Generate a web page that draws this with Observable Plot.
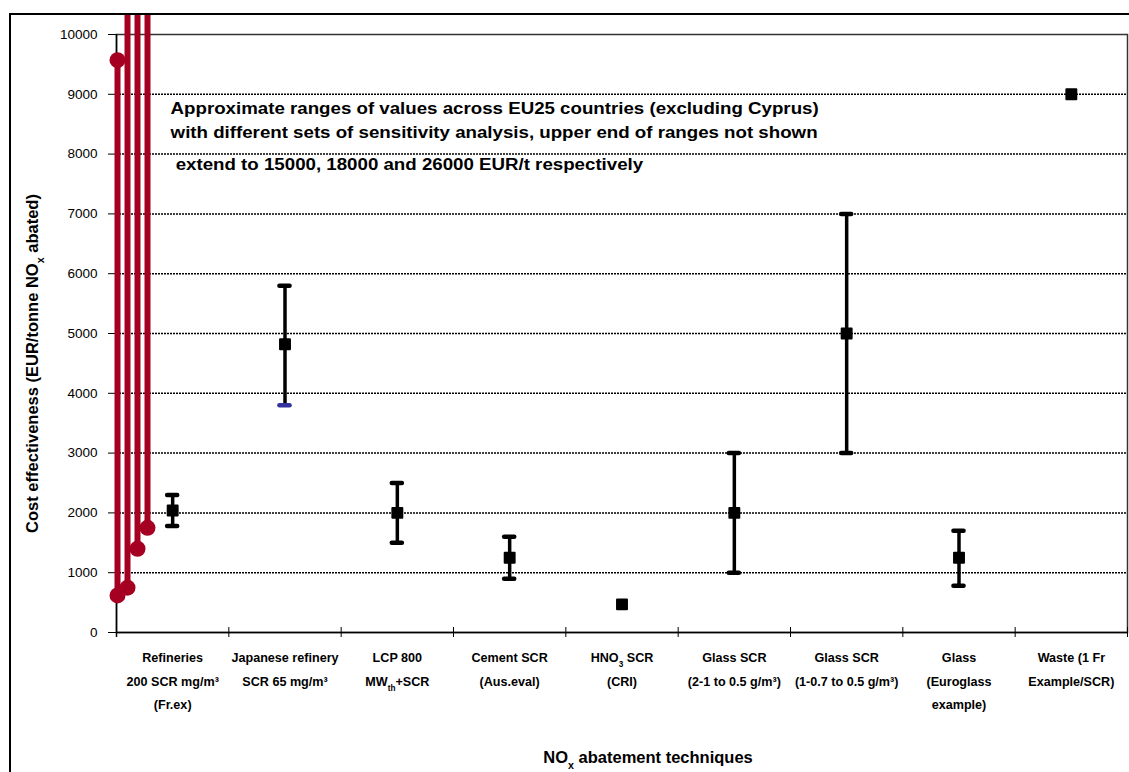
<!DOCTYPE html>
<html>
<head>
<meta charset="utf-8">
<script src="https://cdn.jsdelivr.net/npm/d3@7"></script>
<script src="https://cdn.jsdelivr.net/npm/@observablehq/plot@0.6"></script>
<style>
  html, body { margin: 0; padding: 0; background: white; width: 1129px; height: 772px; overflow: hidden; }
  #frame { position: absolute; left: 9px; top: 13px; width: 1200px; height: 800px; border-left: 2px solid black; border-top: 2px solid black; z-index: 2; pointer-events: none; }
  #chart { position: absolute; left: 0; top: 15px; }
</style>
</head>
<body>
<div id="frame"></div>
<div id="chart"></div>
<script>
// ---- data ----
const categories = [
  "Refineries\n200 SCR mg/m³\n(Fr.ex)",
  "Japanese refinery\nSCR 65 mg/m³",
  "LCP 800\nMW_{th}+SCR",
  "Cement SCR\n(Aus.eval)",
  "HNO_{3} SCR\n(CRI)",
  "Glass SCR\n(2-1 to 0.5 g/m³)",
  "Glass SCR\n(1-0.7 to 0.5 g/m³)",
  "Glass\n(Euroglass\nexample)",
  "Waste (1 Fr\nExample/SCR)"
];
const centerValues = [2040, 4820, 2000, 1250, 470, 2000, 5000, 1250, 9000];
const lowValues    = [1780, 3800, 1500, 900, null, 1000, 3000, 780, null];
const highValues   = [2300, 5800, 2500, 1600, null, 3000, 7000, 1700, null];

// EU25 ranges (red), upper ends of the last three are off the chart
const rangeLows  = [620, 750, 1400, 1750];
const rangeHighs = [9570, 15000, 18000, 26000];

const yTicks = [0, 1000, 2000, 3000, 4000, 5000, 6000, 7000, 8000, 9000, 10000];
const yLabel = "Cost effectiveness (EUR/tonne NO_{x} abated)";
const xLabel = "NO_{x} abatement techniques";
const annotationLines = [
  "Approximate ranges of values across EU25 countries (excluding Cyprus)",
  "with different sets of sensitivity analysis, upper end of ranges not shown",
  " extend to 15000, 18000 and 26000 EUR/t respectively"
];

// ---- derived tables ----
const cats = categories.map((label, i) => ({label, i, x: i + 0.5, c: centerValues[i], lo: lowValues[i], hi: highValues[i]}));
const bars = cats.filter(d => d.lo != null);
const capHalf = 0.045;
const capsBlack = bars.flatMap(d => [
  ...(d.i === 1 ? [] : [{x: d.x, y: d.lo}]),
  {x: d.x, y: d.hi}
]);
const capsBlue = bars.filter(d => d.i === 1).map(d => ({x: d.x, y: d.lo}));
const ranges = rangeLows.map((lo, i) => ({x: 0.009 + i * 0.089, lo, hi: rangeHighs[i]}));
const red = "#a50021";
const annoFont = 17;

const plot = Plot.plot({
  width: 1129,
  height: 757,
  marginLeft: 116,
  marginRight: 2,
  marginTop: 19,
  marginBottom: 140,
  style: {fontFamily: "'Liberation Sans', Arial, sans-serif", background: "transparent", color: "black"},
  x: {domain: [0, 9], axis: null},
  y: {domain: [0, 10000]},
  marks: [
    Plot.gridY(yTicks.slice(1, -1), {stroke: "black", strokeOpacity: 1, strokeDasharray: "2,1", strokeWidth: 1.5}),
    Plot.frame({stroke: "#333", strokeWidth: 1.5}),
    Plot.ruleY([0], {stroke: "black", strokeWidth: 1.5}),
    Plot.ruleX([0], {stroke: "black", strokeWidth: 1.5, insetBottom: -5}),
    Plot.ruleX(d3.range(10), {y1: 0, y2: 0, insetTop: -5, insetBottom: -5, stroke: "black"}),
    Plot.axisY({ticks: yTicks, tickFormat: d => String(d), tickSize: 8, tickPadding: 11, fontSize: 13.5, label: null}),
    // error bars
    Plot.ruleX(bars, {x: "x", y1: "lo", y2: "hi", stroke: "black", strokeWidth: 3.5}),
    Plot.ruleY(capsBlack, {y: "y", x1: d => d.x - capHalf, x2: d => d.x + capHalf, stroke: "black", strokeWidth: 4.5, strokeLinecap: "round"}),
    Plot.ruleY(capsBlue, {y: "y", x1: d => d.x - capHalf, x2: d => d.x + capHalf, stroke: "#3333a0", strokeWidth: 4.5, strokeLinecap: "round"}),
    Plot.dot(cats, {x: "x", y: "c", symbol: "square", r: 5.6, fill: "black", stroke: "black", strokeWidth: 2, strokeLinejoin: "round"}),
    // EU25 ranges
    Plot.ruleX(ranges, {x: "x", y1: "lo", y2: "hi", stroke: red, strokeWidth: 6}),
    Plot.dot(ranges, {x: "x", y: "lo", r: 8, fill: red}),
    Plot.dot(ranges.filter(d => d.hi <= 10000), {x: "x", y: "hi", r: 8, fill: red}),
    // texts
    Plot.text(cats, {x: "x", text: "label", frameAnchor: "bottom", lineAnchor: "top", dy: 13, fontSize: 12.6, fontWeight: "bold", lineHeight: 1.87}),
    Plot.text([yLabel], {frameAnchor: "left", textAnchor: "middle", rotate: -90, dx: -84, dy: 30, fontSize: 16.5, fontWeight: "bold"}),
    Plot.text([xLabel], {frameAnchor: "bottom", textAnchor: "middle", dx: 26, dy: 130, fontSize: 16.5, fontWeight: "bold"}),
    Plot.text([annotationLines.slice(0, 2).join("\n")], {frameAnchor: "top-left", textAnchor: "start", lineAnchor: "top", dx: 54, dy: 63, fontSize: annoFont, fontWeight: "bold", lineHeight: 1.38}),
    Plot.text([annotationLines[2]], {frameAnchor: "top-left", textAnchor: "start", lineAnchor: "top", dx: 54, dy: 123, fontSize: annoFont, fontWeight: "bold"})
  ]
});

// convert _{..} and ^{..} markup into sub/superscript tspans
const SVGNS = "http://www.w3.org/2000/svg";
plot.querySelectorAll("text").forEach(t => {
  const spans = t.querySelectorAll("tspan");
  const targets = spans.length ? [...spans] : [t];
  targets.forEach(el => {
    const s = el.textContent;
    if (!/[_^]\{/.test(s)) return;
    el.textContent = "";
    const re = /([_^])\{([^}]*)\}/g;
    let last = 0, m;
    while ((m = re.exec(s))) {
      if (m.index > last) el.appendChild(document.createTextNode(s.slice(last, m.index)));
      const sp = document.createElementNS(SVGNS, "tspan");
      sp.setAttribute("baseline-shift", m[1] === "_" ? "sub" : "super");
      sp.setAttribute("font-size", "65%");
      sp.textContent = m[2];
      el.appendChild(sp);
      last = re.lastIndex;
    }
    if (last < s.length) el.appendChild(document.createTextNode(s.slice(last)));
  });
});

document.getElementById("chart").appendChild(plot);

// the annotation in the original is rendered horizontally stretched
plot.querySelectorAll("text").forEach(t => {
  const s = t.textContent;
  if (!annotationLines.some(l => s.startsWith(l))) return;
  const bb = t.getBBox();
  const tm = t.transform.baseVal.consolidate();
  const ax = (tm ? tm.matrix.e : 0) + bb.x;
  const g = document.createElementNS(SVGNS, "g");
  g.setAttribute("transform", `translate(${ax},0) scale(1.1,1) translate(${-ax},0)`);
  t.parentNode.insertBefore(g, t);
  g.appendChild(t);
});
</script>
</body>
</html>
